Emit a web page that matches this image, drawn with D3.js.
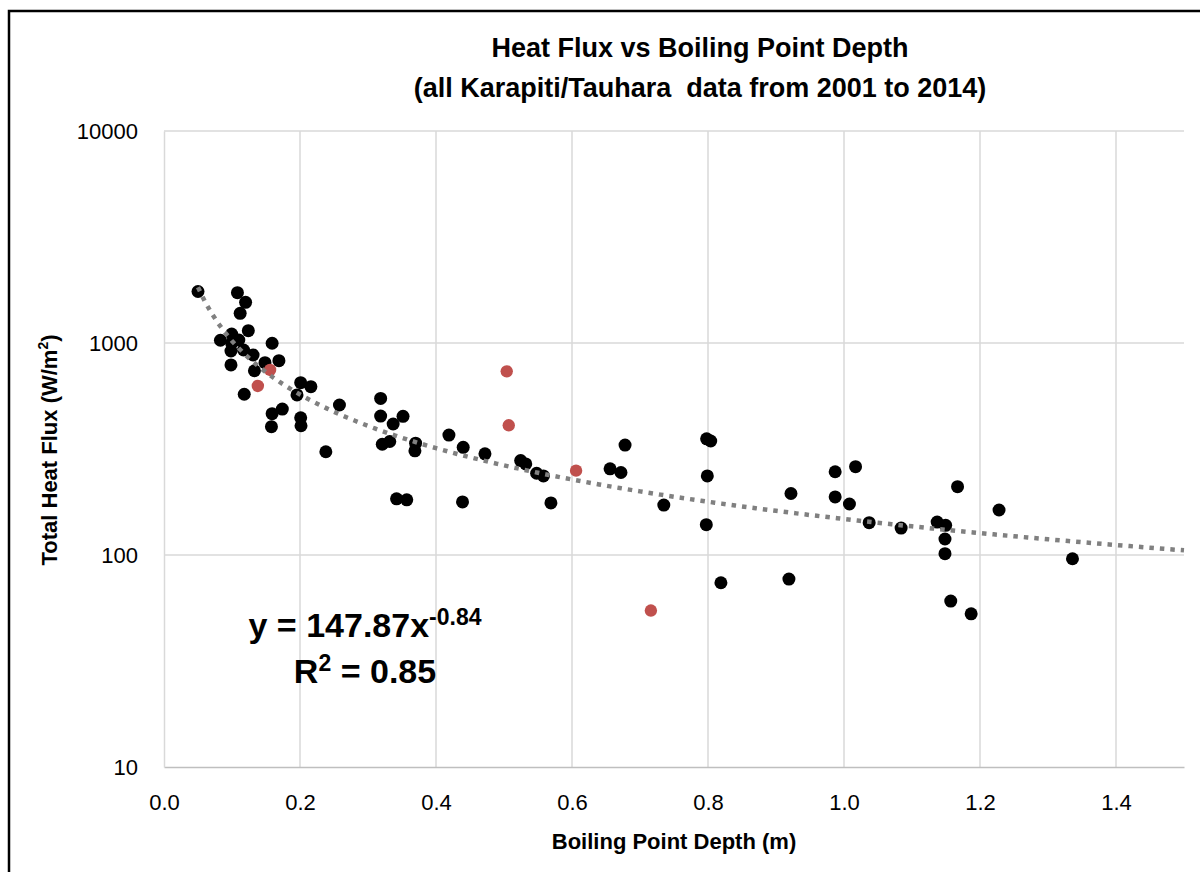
<!DOCTYPE html>
<html>
<head>
<meta charset="utf-8">
<script src="https://cdn.jsdelivr.net/npm/d3@7"></script>
<style>
  body { margin: 0; background: #fff; }
  svg { display: block; font-family: "Liberation Sans", Arial, sans-serif; }
</style>
</head>
<body>
<div id="chart"></div>
<script>
// black points: boiling point depth (m) vs total heat flux (W/m2)
const depthBlack = [0.05, 0.108, 0.120, 0.112, 0.124, 0.0995, 0.083, 0.110, 0.0995, 0.117,
    0.0985, 0.131, 0.159, 0.0985, 0.1485, 0.169, 0.133, 0.118, 0.201, 0.216,
    0.1956, 0.258, 0.174, 0.159, 0.158, 0.201, 0.2015, 0.238, 0.3186, 0.3186,
    0.3515, 0.337, 0.321, 0.332, 0.370, 0.369, 0.342, 0.357, 0.419, 0.440,
    0.472, 0.5245, 0.532, 0.548, 0.558, 0.439, 0.569, 0.678, 0.656, 0.672,
    0.735, 0.798, 0.804, 0.799, 0.7975, 0.819, 0.919, 0.922, 0.987, 0.987,
    1.017, 1.008, 1.037, 1.084, 1.167, 1.228, 1.137, 1.1495, 1.1485, 1.1485,
    1.157, 1.187, 1.336];
const fluxBlack = [1750, 1727, 1556, 1381, 1143, 1103, 1030, 1033, 997, 927,
    917, 878, 997, 788, 808, 825, 740, 573, 650, 622,
    569, 510, 488, 464, 403, 444, 407, 307, 548, 452,
    451, 415, 333, 343, 337, 310, 184, 182, 368, 322,
    300, 279, 269, 243, 236, 178, 176, 330, 255, 245,
    172, 353, 345, 236, 139, 74, 77, 195, 247, 188,
    261, 174, 142, 134, 210, 163, 143, 138, 119, 101.5,
    60.6, 52.8, 96];

// red points
const depthRed = [0.138, 0.156, 0.504, 0.507, 0.606, 0.716];
const fluxRed = [627, 746, 735, 409, 250, 54.7];

// power trendline y = a * x^b
const fitA = 147.87;
const fitB = -0.84;
const fitR2 = 0.85;
const fitStart = 0.05, fitEnd = 1.5;

const xTicks = [0, 0.2, 0.4, 0.6, 0.8, 1.0, 1.2, 1.4];
const yTicks = [10, 100, 1000, 10000];

const width = 1200, height = 872;
const margin = {top: 131, right: 16, bottom: 105, left: 164};

const svg = d3.select("#chart").append("svg")
    .attr("width", width)
    .attr("height", height);

const x = d3.scaleLinear().domain([0, 1.5]).range([margin.left, width - margin.right]);
const y = d3.scaleLog().domain([10, 10000]).range([height - margin.bottom, margin.top]);

// frame
svg.append("rect")
    .attr("x", 9).attr("y", 11)
    .attr("width", width + 20).attr("height", height + 20)
    .attr("fill", "none")
    .attr("stroke", "#000")
    .attr("stroke-width", 2.5);

// gridlines
svg.append("g")
    .attr("stroke", "#d9d9d9")
    .attr("stroke-width", 1.5)
    .selectAll("line")
    .data(xTicks.slice(1))
    .join("line")
    .attr("x1", d => x(d)).attr("x2", d => x(d))
    .attr("y1", y(10)).attr("y2", y(10000));

svg.append("g")
    .attr("stroke", "#d9d9d9")
    .attr("stroke-width", 1.5)
    .selectAll("line")
    .data(yTicks.slice(1))
    .join("line")
    .attr("x1", x(0)).attr("x2", x(1.5))
    .attr("y1", d => y(d)).attr("y2", d => y(d));

// axes
const xAxis = svg.append("g")
    .attr("transform", `translate(0,${y(10)})`)
    .call(d3.axisBottom(x).tickValues(xTicks).tickFormat(d3.format(".1f")).tickSize(0).tickPadding(27))
    .call(g => g.select(".domain").attr("stroke", "#bfbfbf").attr("stroke-width", 1.5));
xAxis.selectAll("text")
    .attr("font-size", 22)
    .attr("fill", "#000")
    .attr("font-family", "Liberation Sans, Arial, sans-serif");

const yAxis = svg.append("g")
    .attr("transform", `translate(${x(0)},0)`)
    .call(d3.axisLeft(y).tickValues(yTicks).tickFormat(d3.format("d")).tickSize(0).tickPadding(26))
    .call(g => g.select(".domain").attr("stroke", "#d9d9d9").attr("stroke-width", 1.5));
yAxis.selectAll("text")
    .attr("font-size", 22)
    .attr("fill", "#000")
    .attr("font-family", "Liberation Sans, Arial, sans-serif");

// points
svg.append("g")
    .attr("fill", "#000")
    .selectAll("circle")
    .data(d3.range(depthBlack.length))
    .join("circle")
    .attr("cx", i => x(depthBlack[i]))
    .attr("cy", i => y(fluxBlack[i]))
    .attr("r", 6.5);

svg.append("g")
    .attr("fill", "#c0504d")
    .selectAll("circle")
    .data(d3.range(depthRed.length))
    .join("circle")
    .attr("cx", i => x(depthRed[i]))
    .attr("cy", i => y(fluxRed[i]))
    .attr("r", 6.2);

// trendline
const fitX = d3.range(fitStart, fitEnd + 0.0001, 0.01);
const line = d3.line()
    .x(d => x(d))
    .y(d => y(fitA * Math.pow(d, fitB)));
svg.append("path")
    .datum(fitX)
    .attr("d", line)
    .attr("fill", "none")
    .attr("stroke", "#808080")
    .attr("stroke-width", 4.5)
    .attr("stroke-dasharray", "4.5,6");

// title
const title = svg.append("text")
    .attr("text-anchor", "middle")
    .attr("font-weight", "bold")
    .attr("font-size", 27)
    .attr("style", "white-space:pre");
title.append("tspan").attr("x", 700).attr("y", 57).text("Heat Flux vs Boiling Point Depth");
title.append("tspan").attr("x", 700).attr("y", 97).text("(all Karapiti/Tauhara  data from 2001 to 2014)");

// axis titles
svg.append("text")
    .attr("x", 674).attr("y", 849)
    .attr("text-anchor", "middle")
    .attr("font-weight", "bold")
    .attr("font-size", 22)
    .text("Boiling Point Depth (m)");

const yTitle = svg.append("text")
    .attr("transform", "translate(57,450) rotate(-90)")
    .attr("text-anchor", "middle")
    .attr("font-weight", "bold")
    .attr("font-size", 22);
yTitle.append("tspan").text("Total Heat Flux (W/m");
yTitle.append("tspan").attr("font-size", 14).attr("dy", -9).text("2");
yTitle.append("tspan").attr("dy", 9).text(")");

// equation
const eq = svg.append("text")
    .attr("x", 365).attr("y", 637)
    .attr("text-anchor", "middle")
    .attr("font-weight", "bold")
    .attr("font-size", 34);
eq.append("tspan").text(`y = ${fitA}x`);
eq.append("tspan").attr("font-size", 23).attr("dy", -12).text(`-${Math.abs(fitB).toFixed(2)}`);

const r2 = svg.append("text")
    .attr("x", 365).attr("y", 683)
    .attr("text-anchor", "middle")
    .attr("font-weight", "bold")
    .attr("font-size", 34);
r2.append("tspan").text("R");
r2.append("tspan").attr("font-size", 23).attr("dy", -12).text("2");
r2.append("tspan").attr("dy", 12).text(` = ${fitR2}`);
</script>
</body>
</html>
